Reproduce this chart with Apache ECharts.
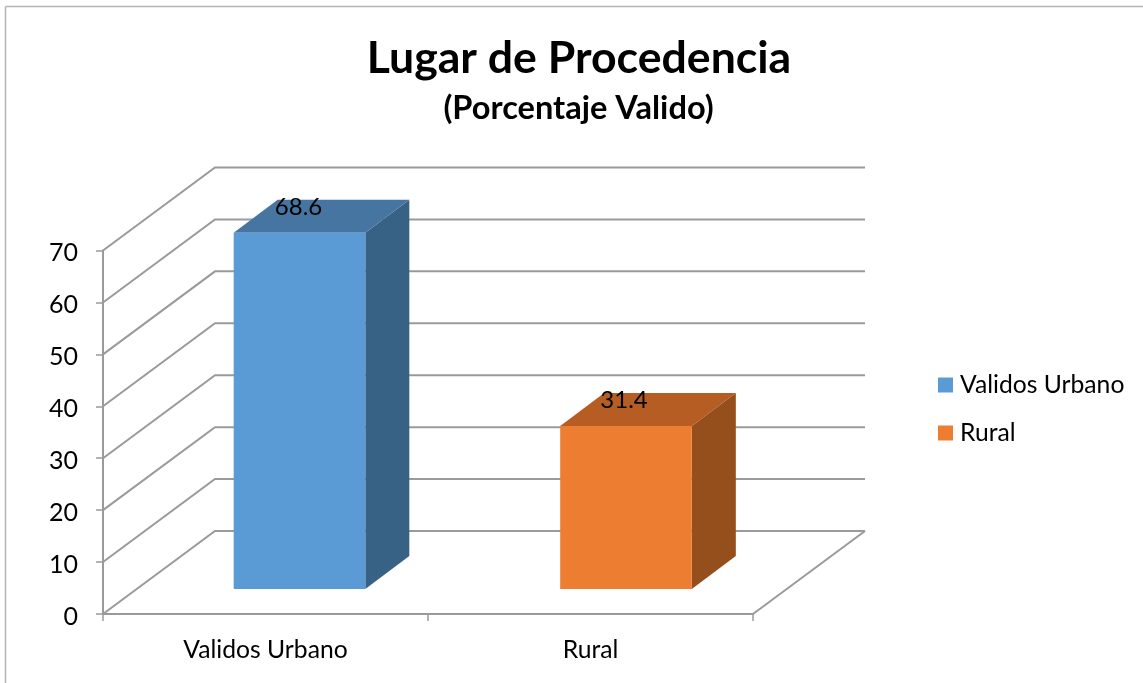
<!DOCTYPE html>
<html>
<head>
<meta charset="utf-8">
<style>
	html, body { margin: 0; padding: 0; background: #fff; }
	#main { width: 1143px; height: 683px; }
</style>
<script src="https://cdn.jsdelivr.net/npm/echarts@6/dist/echarts.min.js"></script>
</head>
<body>
<div id="main"></div>
<script>
	var categories = ['Validos Urbano', 'Rural'];
	var urbanoValues = [68.6];
	var ruralValues = [31.4];
	var yTicks = [0, 10, 20, 30, 40, 50, 60, 70];

	var fontName = 'Lato';
	var gridColor = '#9a9a9a';
	// fake 3D: how far the back wall and the bar depth are shifted
	var wallDx = 112, wallDy = -83;
	var barDx = 44, barDy = -33;
	var floorDy = -25;

	function renderWall(params, api) {
		var grid = params.coordSys;
		var y = api.coord([0, api.value(1)])[1];
		var x0 = grid.x, x1 = grid.x + grid.width;
		var children = [{
			type: 'polyline',
			shape: { points: [[x0, y], [x0 + wallDx, y + wallDy], [x1 + wallDx, y + wallDy]] },
			style: { fill: null, stroke: gridColor, lineWidth: 2 }
		}];
		// floor right edge
		if (api.value(1) === 0) {
			children.push({
				type: 'line',
				shape: { x1: x1, y1: y, x2: x1 + wallDx, y2: y + wallDy },
				style: { stroke: gridColor, lineWidth: 2 }
			});
		}
		return { type: 'group', children: children };
	}

	function renderBar3d(colors, floorDx, labelShift) {
		return function (params, api) {
			var top = api.coord([api.value(0), api.value(1)]);
			var base = api.coord([api.value(0), 0]);
			var w = api.size([1, 0])[0] * 0.405;
			var l = top[0] + floorDx - w / 2, r = l + w;
			var t = top[1] + floorDy, b = base[1] + floorDy;
			return {
				type: 'group',
				children: [{
					type: 'polygon',
					shape: { points: [[r, t], [r + barDx, t + barDy], [r + barDx, b + barDy], [r, b]] },
					style: { fill: colors.side }
				}, {
					type: 'polygon',
					shape: { points: [[l, t], [l + barDx, t + barDy], [r + barDx, t + barDy], [r, t]] },
					style: { fill: colors.top }
				}, {
					type: 'rect',
					shape: { x: l, y: t, width: w, height: b - t },
					style: { fill: colors.front }
				}, {
					type: 'text',
					style: {
						x: (l + r) / 2 + labelShift,
						y: t - 26,
						text: String(api.value(1)),
						fill: '#000',
						font: '24px ' + fontName,
						align: 'center',
						verticalAlign: 'middle'
					}
				}]
			};
		};
	}

	var chart = echarts.init(document.getElementById('main'));
	chart.setOption({
		animation: false,
		backgroundColor: '#fff',
		textStyle: { fontFamily: fontName },
		title: [{
			text: 'Lugar de Procedencia',
			left: 574,
			top: 31,
			textAlign: 'center',
			textStyle: { fontFamily: fontName, fontSize: 44.6, fontWeight: 'bold', color: '#000' }
		}, {
			text: '(Porcentaje Valido)',
			left: 573.5,
			top: 87,
			textAlign: 'center',
			textStyle: { fontFamily: fontName, fontSize: 32.6, fontWeight: 'bold', color: '#000' }
		}],
		legend: {
			orient: 'vertical',
			left: 933,
			top: 367,
			icon: 'rect',
			itemWidth: 15,
			itemHeight: 15,
			itemGap: 22,
			data: categories,
			textStyle: { fontFamily: fontName, fontSize: 24.7, lineHeight: 26, color: '#000', padding: [0, 0, 0, 2] }
		},
		grid: { left: 103, top: 250.5, width: 650, height: 363.5 },
		xAxis: {
			type: 'category',
			data: categories,
			axisLine: { lineStyle: { color: gridColor, width: 2 } },
			axisTick: { show: true, length: 7, alignWithLabel: false, lineStyle: { color: gridColor, width: 1.5 } },
			axisLabel: { color: '#000', fontSize: 24.7, margin: 24 }
		},
		yAxis: {
			type: 'value',
			min: 0,
			max: 70,
			interval: 10,
			splitLine: { show: false },
			axisLine: { show: true, lineStyle: { color: gridColor, width: 2 } },
			axisTick: { show: true, length: 7, lineStyle: { color: gridColor, width: 1.5 } },
			axisLabel: {
				margin: 25,
				formatter: '{a|{value}}',
				rich: { a: { color: '#000', fontFamily: fontName, fontSize: 25, padding: [5, 0, 0, 0] } }
			}
		},
		graphic: [
			{ type: 'line', shape: { x1: 5.5, y1: 6.5, x2: 1143, y2: 6.5 }, style: { stroke: '#b4b4b4', lineWidth: 1.5 } },
			{ type: 'line', shape: { x1: 5.5, y1: 6.5, x2: 5.5, y2: 683 }, style: { stroke: '#b4b4b4', lineWidth: 1.5 } }
		],
		series: [{
			name: 'walls',
			type: 'custom',
			clip: false,
			silent: true,
			renderItem: renderWall,
			data: yTicks.map(function (t) { return [0, t]; }),
			encode: { x: 0, y: 1 },
			z: 1
		}, {
			name: categories[0],
			type: 'custom',
			clip: false,
			itemStyle: { color: '#5b9bd5' },
			renderItem: renderBar3d({ front: '#5b9bd5', top: '#4675a2', side: '#376285' }, 34, -1),
			data: urbanoValues.map(function (v) { return [0, v]; }),
			encode: { x: 0, y: 1 },
			z: 2
		}, {
			name: categories[1],
			type: 'custom',
			clip: false,
			itemStyle: { color: '#ed7d31' },
			renderItem: renderBar3d({ front: '#ed7d31', top: '#b55d22', side: '#954f1c' }, 35.5, -2),
			data: ruralValues.map(function (v) { return [1, v]; }),
			encode: { x: 0, y: 1 },
			z: 2
		}]
	});
</script>
</body>
</html>
